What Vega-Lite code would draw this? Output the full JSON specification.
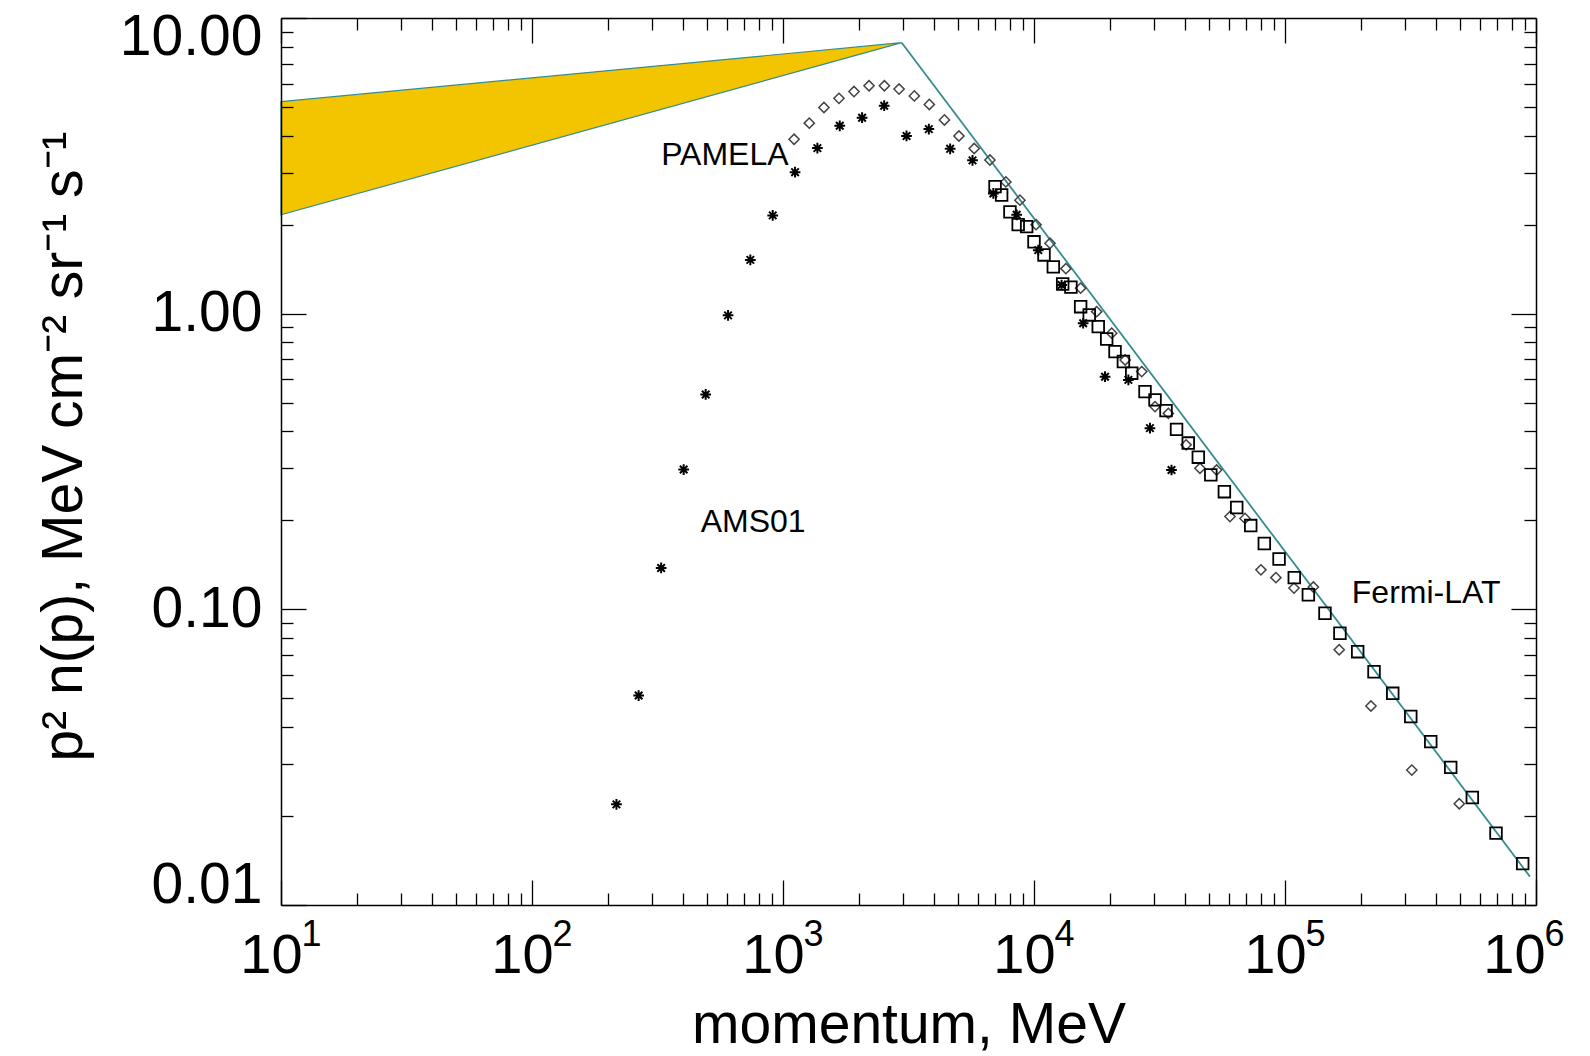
{
  "$schema": "https://vega.github.io/schema/vega-lite/v6.json",
  "width": 1255,
  "height": 887,
  "autosize": {"type": "none"},
  "padding": {"left": 281, "top": 18, "right": 54, "bottom": 151},
  "background": "white",
  "config": {"view": {"stroke": null}, "font": "Liberation Sans"},
  "datasets": {
    "band": [
      {"p": 10, "lo": 2.16, "hi": 5.21},
      {"p": 2972, "lo": 8.25, "hi": 8.25}
    ],
    "fit": [
      {"p": 2972, "v": 8.25},
      {"p": 946000, "v": 0.01247}
    ],
    "ams": [
      {"p": 217, "v": 0.0219}, {"p": 266, "v": 0.0511}, {"p": 327, "v": 0.138}, {"p": 402, "v": 0.297},
      {"p": 492, "v": 0.533}, {"p": 604, "v": 0.987}, {"p": 741, "v": 1.52}, {"p": 910, "v": 2.15},
      {"p": 1117, "v": 3.01}, {"p": 1371, "v": 3.63}, {"p": 1683, "v": 4.32}, {"p": 2066, "v": 4.6},
      {"p": 2530, "v": 5.05}, {"p": 3106, "v": 3.99}, {"p": 3811, "v": 4.21}, {"p": 4634, "v": 3.61},
      {"p": 5689, "v": 3.3}, {"p": 6886, "v": 2.55}, {"p": 8530, "v": 2.16}, {"p": 10400, "v": 1.64},
      {"p": 12880, "v": 1.25}, {"p": 15700, "v": 0.928}, {"p": 19190, "v": 0.612}, {"p": 23770, "v": 0.597},
      {"p": 28970, "v": 0.41}, {"p": 35300, "v": 0.296}
    ],
    "pamela": [
      {"p": 1107, "v": 3.89}, {"p": 1273, "v": 4.41}, {"p": 1456, "v": 4.98}, {"p": 1671, "v": 5.35},
      {"p": 1918, "v": 5.64}, {"p": 2202, "v": 5.9}, {"p": 2535, "v": 5.9}, {"p": 2900, "v": 5.75},
      {"p": 3336, "v": 5.45}, {"p": 3828, "v": 5.1}, {"p": 4396, "v": 4.52}, {"p": 5023, "v": 3.99},
      {"p": 5777, "v": 3.62}, {"p": 6675, "v": 3.31}, {"p": 7727, "v": 2.79}, {"p": 8790, "v": 2.42},
      {"p": 10190, "v": 2.0}, {"p": 11580, "v": 1.73}, {"p": 13400, "v": 1.42}, {"p": 15340, "v": 1.22},
      {"p": 17770, "v": 1.016}, {"p": 20400, "v": 0.859}, {"p": 23080, "v": 0.697}, {"p": 26870, "v": 0.637},
      {"p": 30350, "v": 0.485}, {"p": 34300, "v": 0.46}, {"p": 40370, "v": 0.36}, {"p": 45830, "v": 0.3},
      {"p": 53400, "v": 0.296}, {"p": 60370, "v": 0.206}, {"p": 69300, "v": 0.203}, {"p": 80200, "v": 0.136},
      {"p": 92000, "v": 0.128}, {"p": 108600, "v": 0.118}, {"p": 129700, "v": 0.119}, {"p": 164400, "v": 0.073},
      {"p": 220000, "v": 0.0471}, {"p": 320000, "v": 0.0286}, {"p": 494600, "v": 0.022}
    ],
    "fermi": [
      {"p": 6995, "v": 2.69}, {"p": 7430, "v": 2.52}, {"p": 8020, "v": 2.21}, {"p": 8650, "v": 2.0},
      {"p": 9350, "v": 1.97}, {"p": 10000, "v": 1.75}, {"p": 10960, "v": 1.58}, {"p": 11940, "v": 1.44},
      {"p": 13010, "v": 1.26}, {"p": 14030, "v": 1.23}, {"p": 15340, "v": 1.056}, {"p": 16600, "v": 0.99},
      {"p": 18030, "v": 0.904}, {"p": 19480, "v": 0.821}, {"p": 21030, "v": 0.744}, {"p": 22710, "v": 0.689},
      {"p": 24510, "v": 0.629}, {"p": 27690, "v": 0.545}, {"p": 30350, "v": 0.511}, {"p": 33570, "v": 0.47},
      {"p": 36980, "v": 0.406}, {"p": 41170, "v": 0.365}, {"p": 45150, "v": 0.327}, {"p": 50630, "v": 0.285},
      {"p": 57340, "v": 0.25}, {"p": 64220, "v": 0.221}, {"p": 73030, "v": 0.192}, {"p": 82720, "v": 0.167},
      {"p": 94700, "v": 0.148}, {"p": 108900, "v": 0.128}, {"p": 123900, "v": 0.112}, {"p": 144300, "v": 0.097},
      {"p": 165500, "v": 0.083}, {"p": 194800, "v": 0.0719}, {"p": 226300, "v": 0.0615}, {"p": 268700, "v": 0.052},
      {"p": 317000, "v": 0.0434}, {"p": 380800, "v": 0.0357}, {"p": 457300, "v": 0.0292}, {"p": 557600, "v": 0.0231},
      {"p": 693000, "v": 0.0175}, {"p": 885000, "v": 0.0138}
    ],
    "labels": [
      {"p": 327, "v": 3.19, "label": "PAMELA"},
      {"p": 470, "v": 0.183, "label": "AMS01"},
      {"p": 184600, "v": 0.105, "label": "Fermi-LAT"}
    ]
  },
  "resolve": {"axis": {"x": "independent", "y": "independent"}},
  "layer": [
    {
      "data": {"name": "band"},
      "mark": {"type": "area", "color": "#F2C500", "stroke": "#358c8f", "strokeWidth": 1.2},
      "encoding": {
        "x": {
          "field": "p", "type": "quantitative",
          "scale": {"type": "log", "domain": [10, 1000000], "nice": false},
          "axis": {
            "orient": "bottom", "zindex": 1, "grid": false,
            "values": [10,20,30,40,50,60,70,80,90,100,200,300,400,500,600,700,800,900,1000,2000,3000,4000,5000,6000,7000,8000,9000,10000,20000,30000,40000,50000,60000,70000,80000,90000,100000,200000,300000,400000,500000,600000,700000,800000,900000,1000000],
            "labelExpr": "(abs(log(datum.value)/LN10 - round(log(datum.value)/LN10)) < 0.001) ? '10' : ''",
            "tickSize": {"condition": {"test": "abs(log(datum.value)/LN10 - round(log(datum.value)/LN10)) < 0.001", "value": -25}, "value": -12},
            "labelPadding": 48, "labelFontSize": 56, "labelFont": "Liberation Sans", "labelColor": "black",
            "labelOffset": {"condition": {"test": "datum.value > 500000", "value": -22}, "value": -10},
            "labelFlush": false, "labelOverlap": false, "labelBound": false,
            "domainColor": "black", "domainWidth": 1.5, "tickColor": "black", "tickWidth": 1.3,
            "title": "momentum, MeV", "titleFontSize": 57, "titleFont": "Liberation Sans", "titleFontWeight": "normal",
            "titleColor": "black", "titleY": 137, "titleBaseline": "alphabetic"
          }
        },
        "y": {
          "field": "hi", "type": "quantitative",
          "scale": {"type": "log", "domain": [0.01, 10], "nice": false},
          "axis": {
            "orient": "left", "zindex": 1, "grid": false,
            "values": [0.01,0.02,0.03,0.04,0.05,0.06,0.07,0.08,0.09,0.1,0.2,0.3,0.4,0.5,0.6,0.7,0.8,0.9,1,2,3,4,5,6,7,8,9,10],
            "labelExpr": "(abs(log(datum.value)/LN10 - round(log(datum.value)/LN10)) < 0.001) ? format(datum.value, '.2f') : ''",
            "tickSize": {"condition": {"test": "abs(log(datum.value)/LN10 - round(log(datum.value)/LN10)) < 0.001", "value": -25}, "value": -12},
            "labelPadding": 44, "labelFontSize": 57, "labelFont": "Liberation Sans", "labelColor": "black",
            "labelFlush": true, "labelFlushOffset": 9, "labelOverlap": false, "labelBound": false,
            "domainColor": "black", "domainWidth": 1.5, "tickColor": "black", "tickWidth": 1.3,
            "title": "p² n(p), MeV cm⁻² sr⁻¹ s⁻¹", "titleFontSize": 57, "titleFont": "Liberation Sans", "titleFontWeight": "normal",
            "titleColor": "black", "titleX": -200, "titleY": 428, "titleBaseline": "alphabetic", "titleAngle": -90
          }
        },
        "y2": {"field": "lo"}
      }
    },
    {
      "data": {"name": "fit"},
      "mark": {"type": "line", "color": "#358c8f", "strokeWidth": 1.8},
      "encoding": {
        "x": {
          "field": "p", "type": "quantitative",
          "scale": {"type": "log", "domain": [10, 1000000], "nice": false},
          "axis": {
            "orient": "top", "zindex": 1, "grid": false, "labels": false, "title": null,
            "values": [10,20,30,40,50,60,70,80,90,100,200,300,400,500,600,700,800,900,1000,2000,3000,4000,5000,6000,7000,8000,9000,10000,20000,30000,40000,50000,60000,70000,80000,90000,100000,200000,300000,400000,500000,600000,700000,800000,900000,1000000],
            "tickSize": {"condition": {"test": "abs(log(datum.value)/LN10 - round(log(datum.value)/LN10)) < 0.001", "value": -25}, "value": -12},
            "domainColor": "black", "domainWidth": 1.5, "tickColor": "black", "tickWidth": 1.3
          }
        },
        "y": {
          "field": "v", "type": "quantitative",
          "scale": {"type": "log", "domain": [0.01, 10], "nice": false},
          "axis": {
            "orient": "right", "zindex": 1, "grid": false, "labels": false, "title": null,
            "values": [0.01,0.02,0.03,0.04,0.05,0.06,0.07,0.08,0.09,0.1,0.2,0.3,0.4,0.5,0.6,0.7,0.8,0.9,1,2,3,4,5,6,7,8,9,10],
            "tickSize": {"condition": {"test": "abs(log(datum.value)/LN10 - round(log(datum.value)/LN10)) < 0.001", "value": -25}, "value": -12},
            "domainColor": "black", "domainWidth": 1.5, "tickColor": "black", "tickWidth": 1.3
          }
        }
      }
    },
    {
      "data": {"name": "pamela"},
      "mark": {"type": "point", "shape": "diamond", "filled": false, "stroke": "#444444", "strokeWidth": 1.5, "size": 105, "opacity": 1},
      "encoding": {
        "x": {"field": "p", "type": "quantitative", "scale": {"type": "log", "domain": [10, 1000000], "nice": false},
          "axis": {
            "orient": "bottom", "zindex": 1, "grid": false, "ticks": false, "domain": false, "title": null,
            "values": [10, 100, 1000, 10000, 100000, 1000000],
            "labelExpr": "format(log(datum.value)/LN10, '.0f')",
            "labelPadding": 12, "labelFontSize": 36, "labelFont": "Liberation Sans", "labelColor": "black",
            "labelOffset": {"condition": {"test": "datum.value > 500000", "value": 18}, "value": 30},
            "labelFlush": false, "labelOverlap": false, "labelBound": false
          }
        },
        "y": {"field": "v", "type": "quantitative", "scale": {"type": "log", "domain": [0.01, 10], "nice": false}, "axis": null}
      }
    },
    {
      "data": {"name": "ams"},
      "mark": {"type": "point", "shape": "M-1,0L1,0M0,-1L0,1M-0.7,-0.7L0.7,0.7M-0.7,0.7L0.7,-0.7", "filled": false, "stroke": "black", "strokeWidth": 2, "size": 115, "opacity": 1},
      "encoding": {
        "x": {"field": "p", "type": "quantitative", "scale": {"type": "log", "domain": [10, 1000000], "nice": false}, "axis": null},
        "y": {"field": "v", "type": "quantitative", "scale": {"type": "log", "domain": [0.01, 10], "nice": false}, "axis": null}
      }
    },
    {
      "data": {"name": "fermi"},
      "mark": {"type": "point", "shape": "square", "filled": false, "stroke": "black", "strokeWidth": 1.8, "size": 135, "opacity": 1},
      "encoding": {
        "x": {"field": "p", "type": "quantitative", "scale": {"type": "log", "domain": [10, 1000000], "nice": false}, "axis": null},
        "y": {"field": "v", "type": "quantitative", "scale": {"type": "log", "domain": [0.01, 10], "nice": false}, "axis": null}
      }
    },
    {
      "data": {"name": "labels"},
      "mark": {"type": "text", "align": "left", "baseline": "alphabetic", "fontSize": 32, "font": "Liberation Sans", "color": "black"},
      "encoding": {
        "x": {"field": "p", "type": "quantitative", "scale": {"type": "log", "domain": [10, 1000000], "nice": false}, "axis": null},
        "y": {"field": "v", "type": "quantitative", "scale": {"type": "log", "domain": [0.01, 10], "nice": false}, "axis": null},
        "text": {"field": "label"}
      }
    }
  ]
}
